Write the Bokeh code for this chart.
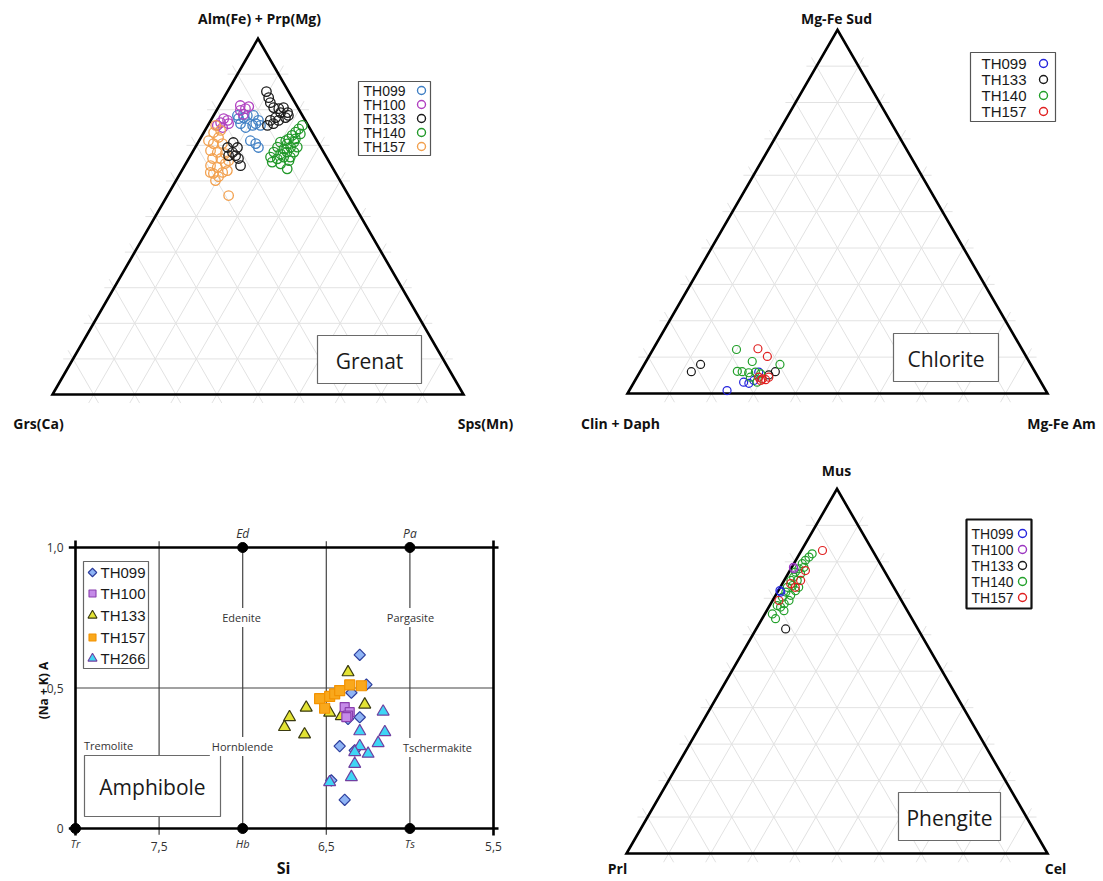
import math
from bokeh.plotting import figure
from bokeh.layouts import gridplot
from bokeh.models import Range1d, Label
from bokeh.embed import file_html
from bokeh.resources import INLINE
from bokeh.core.properties import value

# ---------------- DATA ----------------
# Grenat: top apex = Alm(Fe)+Prp(Mg) %, right apex = Sps(Mn) %, Grs(Ca) = remainder
grt_names = ["TH099", "TH100", "TH133", "TH140", "TH157"]
grt_th099_top = [77.5, 77.8, 78.4, 78.4, 77.0, 76.1, 75.0, 75.6, 76.1, 75.6, 71.3, 70.5, 69.4, 78.4]
grt_th099_sps = [6.5, 7.6, 8.2, 9.7, 11.6, 7.7, 9.5, 10.9, 11.4, 12.8, 12.5, 14.2, 15.4, 5.8]
grt_th100_top = [81.2, 80.3, 80.9, 79.8, 78.7, 77.5, 76.4, 77.0, 75.6, 75.0, 76.1]
grt_th100_sps = [5.1, 6.8, 7.3, 5.8, 7.1, 2.9, 2.7, 4.1, 2.3, 3.9, 4.8]
grt_th133_top = [85.1, 83.4, 82.0, 80.6, 80.3, 80.6, 79.2, 78.4, 79.2, 77.8, 77.0, 76.1, 75.6, 77.0, 77.8,
                 70.8, 69.4, 68.0, 67.1, 66.3, 64.3, 69.4, 67.1]
grt_th133_sps = [9.5, 10.9, 12.0, 13.5, 14.9, 15.9, 17.6, 18.2, 15.9, 15.4, 14.5, 15.7, 14.5, 16.5, 17.8,
                 8.6, 10.3, 9.8, 11.0, 12.1, 13.6, 7.9, 9.3]
grt_th140_top = [75.6, 74.6, 73.7, 72.8, 71.8, 71.3, 70.9, 70.4, 70.9, 69.5, 69.0, 69.5, 69.5, 68.1,
                 67.6, 68.1, 68.1, 66.7, 66.2, 66.7, 66.7, 65.3, 64.8, 65.7, 63.4, 71.8, 73.2]
grt_th140_sps = [23.0, 22.6, 22.3, 21.9, 21.6, 21.1, 20.0, 21.9, 23.3, 20.0, 21.8, 23.2, 24.8, 19.8,
                 21.7, 23.0, 24.7, 19.7, 21.6, 22.9, 24.5, 20.8, 23.1, 24.7, 25.4, 23.2, 23.7]
grt_th157_top = [73.6, 72.2, 70.5, 70.5, 68.5, 68.0, 67.7, 66.3, 66.3, 65.7, 64.3, 63.8, 64.9, 62.1,
                 62.4, 60.1, 62.9, 55.9, 71.3, 75.6, 74.2, 62.4, 61.2]
grt_th157_sps = [2.4, 4.3, 3.9, 6.1, 4.2, 6.1, 8.2, 5.8, 7.8, 10.0, 6.3, 8.2, 9.6, 8.1,
                 10.2, 9.6, 11.1, 14.9, 2.3, 1.9, 3.8, 7.2, 9.8]
grt_colors = ["#3f7fc4", "#b040c0", "#1a1a1a", "#22992a", "#f2a04e"]

# Chlorite: top apex = Mg-Fe Sud %, right apex = Mg-Fe Am %, Clin + Daph = remainder
chl_names = ["TH099", "TH133", "TH140", "TH157"]
chl_th099_top = [0.8, 3.1, 2.8, 3.6, 5.9]
chl_th099_am = [23.3, 26.1, 27.5, 28.3, 28.3]
chl_th133_top = [6.0, 8.0, 6.0, 5.1]
chl_th133_am = [12.2, 13.4, 32.2, 31.1]
chl_th140_top = [12.1, 8.8, 8.0, 6.1, 6.0, 5.7, 5.9, 5.4, 3.1, 4.5]
chl_th140_am = [19.9, 25.3, 32.3, 23.1, 24.3, 26.0, 27.5, 29.0, 29.3, 27.0]
chl_th157_top = [12.3, 10.2, 4.5, 4.0, 3.8, 4.5, 3.6]
chl_th157_am = [24.9, 28.2, 29.0, 30.1, 31.0, 31.4, 29.9]
chl_colors = ["#2424dd", "#1a1a1a", "#22a02a", "#e02020"]

# Phengite: top apex = Mus %, right apex = Cel %, Prl = remainder
phg_names = ["TH099", "TH100", "TH133", "TH140", "TH157"]
phg_th099_top = [72.1, 71.7]
phg_th099_cel = [0.4, 0.8]
phg_th100_top = [78.5, 78.1]
phg_th100_cel = [0.4, 0.7]
phg_th133_top = [61.6]
phg_th133_cel = [7.0]
phg_th140_top = [82.2, 81.3, 80.4, 79.5, 78.5, 78.1, 77.2, 76.7, 75.8, 74.9, 74.9, 73.5, 73.0,
                 73.0, 72.1, 71.7, 70.8, 70.3, 69.4, 68.5, 68.0, 66.6, 65.7, 64.4, 67.6]
phg_th140_cel = [3.0, 2.7, 2.3, 2.0, 2.9, 1.9, 1.5, 3.0, 1.8, 1.6, 3.1, 2.7, 1.7,
                 4.4, 4.1, 2.0, 3.6, 1.9, 3.9, 3.2, 1.8, 4.1, 1.8, 3.2, 2.8]
phg_th157_top = [83.1, 77.6, 74.0, 69.4, 73.0, 74.9]
phg_th157_cel = [5.0, 3.7, 2.0, 1.5, 3.6, 3.9]
phg_colors = ["#2424dd", "#9a35c0", "#1a1a1a", "#22a02a", "#e02020"]

# Amphibole: Si (apfu) vs (Na + K) A
amp_names = ["TH099", "TH100", "TH133", "TH157", "TH266"]
amp_th099_si = [6.30, 6.26, 6.35, 6.30, 6.37, 6.42, 6.33, 6.47, 6.39]
amp_th099_a = [0.618, 0.512, 0.483, 0.396, 0.390, 0.293, 0.278, 0.171, 0.102]
amp_th100_si = [6.39, 6.36, 6.37, 6.38]
amp_th100_a = [0.432, 0.414, 0.402, 0.396]
amp_th133_si = [6.37, 6.27, 6.62, 6.72, 6.75, 6.63, 6.48, 6.41]
amp_th133_a = [0.556, 0.441, 0.430, 0.396, 0.361, 0.335, 0.412, 0.400]
amp_th157_si = [6.54, 6.51, 6.48, 6.45, 6.42, 6.36, 6.29]
amp_th157_a = [0.462, 0.428, 0.470, 0.479, 0.491, 0.511, 0.508]
amp_th266_si = [6.16, 6.30, 6.15, 6.19, 6.30, 6.33, 6.25, 6.33, 6.35, 6.48]
amp_th266_a = [0.416, 0.346, 0.343, 0.304, 0.293, 0.272, 0.266, 0.230, 0.183, 0.165]
amp_fill = ["#8fb4f5", "#c58ae8", "#e3e334", "#f9a81c", "#3fd6f5"]
amp_line = ["#2c3d9c", "#8a3fae", "#3a3a10", "#f39200", "#7040a0"]
amp_x_ticks = [7.5, 6.5, 5.5]
amp_x_tick_labels = ["7,5", "6,5", "5,5"]
amp_y_ticks = [1.0, 0.5, 0.0]
amp_y_tick_labels = ["1,0", "0,5", "0"]

# ---------------- HELPERS ----------------
S3 = math.sqrt(3) / 2
TFONT = value("Open Sans")
LFONT = value("Liberation Sans")


def base_fig(w, h, xr, yr):
    p = figure(width=w, height=h, x_range=Range1d(*xr), y_range=Range1d(*yr),
               output_backend="svg", toolbar_location=None,
               x_axis_type=None, y_axis_type=None, min_border=0)
    p.outline_line_color = None
    p.background_fill_color = "white"
    p.border_fill_color = "white"
    return p


def ternary_fig(box, origin, L):
    bx0, by0, bx1, by1 = box
    ox, oy = origin
    p = base_fig(bx1 - bx0, by1 - by0, ((bx0 - ox) / L, (bx1 - ox) / L), ((oy - by1) / L, (oy - by0) / L))

    def conv(sx, sy):
        return (sx - ox) / L, (oy - sy) / L
    return p, conv


def ternary_xy(top, right):
    xs = [r / 100 + t / 200 for t, r in zip(top, right)]
    ys = [t / 100 * S3 for t in top]
    return xs, ys


def draw_ternary_frame(p, ext=0.024):
    xs, ys = [], []
    for k in range(1, 10):
        f = k / 10
        segs = [((f / 2, f * S3), (1 - f / 2, f * S3)),
                ((f, 0), (f + (1 - f) / 2, (1 - f) * S3)),
                ((1 - f, 0), ((1 - f) / 2, (1 - f) * S3))]
        for (x0, y0), (x1, y1) in segs:
            d = math.hypot(x1 - x0, y1 - y0)
            ux, uy = (x1 - x0) / d, (y1 - y0) / d
            xs.append([x0 - ux * ext, x1 + ux * ext])
            ys.append([y0 - uy * ext, y1 + uy * ext])
    p.multi_line(xs, ys, line_color="#e2e2e2", line_width=1)
    p.patch([0, 1, 0.5], [0, 0, S3], fill_color=None, line_color="black",
            line_width=2.6, line_join="miter")


def txt(p, conv, sx, sy, s, size, style="normal", align="center", color="#111", font=TFONT, angle=0.0):
    x, y = conv(sx, sy)
    p.text([x], [y], text=[s], text_font=font, text_font_size=f"{size}px", text_font_style=style,
           text_align=align, text_baseline="middle", text_color=color, angle=angle)


def boxed(p, conv, x0, y0, x1, y1, line_color="#666", lw=1.0):
    a = conv(x0, y0)
    b = conv(x1, y1)
    p.quad(left=min(a[0], b[0]), right=max(a[0], b[0]), bottom=min(a[1], b[1]), top=max(a[1], b[1]),
           fill_color="white", line_color=line_color, line_width=lw)


def name_box(p, conv, box, label):
    x0, y0, x1, y1 = box
    boxed(p, conv, x0, y0, x1, y1, line_color="#6a6a6a", lw=1.2)
    txt(p, conv, (x0 + x1) / 2, (y0 + y1) / 2 + 1, label, 21, color="#1a1a1a")


def ternary_legend(p, conv, box, names, colors, tx, mx, rows, fsize, msize, lw_box, box_col):
    boxed(p, conv, *box, line_color=box_col, lw=lw_box)
    for n, c, ry in zip(names, colors, rows):
        txt(p, conv, tx, ry, n, fsize, align="left", font=LFONT, color="#1a1a1a")
        x, y = conv(mx, ry)
        p.scatter([x], [y], marker="circle", size=msize, fill_color=None, line_color=c, line_width=1.4)


def ternary_points(p, tops, rights, colors, size, lw):
    for t, r, c in zip(tops, rights, colors):
        x, y = ternary_xy(t, r)
        p.scatter(x, y, marker="circle", size=size, fill_color=None, line_color=c, line_width=lw)


# ---------------- GRENAT ----------------
p1, c1 = ternary_fig((0, 0, 551, 440), (52, 394), 411)
draw_ternary_frame(p1)
ternary_points(p1,
               [grt_th099_top, grt_th100_top, grt_th157_top, grt_th133_top, grt_th140_top],
               [grt_th099_sps, grt_th100_sps, grt_th157_sps, grt_th133_sps, grt_th140_sps],
               [grt_colors[0], grt_colors[1], grt_colors[4], grt_colors[2], grt_colors[3]], 9.5, 1.3)
ternary_legend(p1, c1, (358, 81, 430, 155), grt_names, grt_colors, 363, 421,
               [90, 104, 118, 132, 146], 14, 8, 1.2, "#555")
name_box(p1, c1, (317, 335, 421, 383), "Grenat")
txt(p1, c1, 259, 18, "Alm(Fe) + Prp(Mg)", 14, style="bold")
txt(p1, c1, 38, 423, "Grs(Ca)", 14, style="bold")
txt(p1, c1, 485, 423, "Sps(Mn)", 14, style="bold")

# ---------------- CHLORITE ----------------
p2, c2 = ternary_fig((551, 0, 1101, 440), (627, 393), 420)
draw_ternary_frame(p2)
ternary_points(p2,
               [chl_th099_top, chl_th133_top, chl_th140_top, chl_th157_top],
               [chl_th099_am, chl_th133_am, chl_th140_am, chl_th157_am],
               chl_colors, 8, 1.2)
ternary_legend(p2, c2, (970, 52, 1055, 121), chl_names, chl_colors, 981, 1043,
               [63, 79, 95, 111], 15, 8, 1.2, "#555")
name_box(p2, c2, (893, 333, 998, 381), "Chlorite")
txt(p2, c2, 836, 18, "Mg-Fe Sud", 14, style="bold")
txt(p2, c2, 620, 423, "Clin + Daph", 14, style="bold")
txt(p2, c2, 1061, 423, "Mg-Fe Am", 14, style="bold")

# ---------------- PHENGITE ----------------
p4, c4 = ternary_fig((551, 440, 1101, 879), (626, 853), 421)
draw_ternary_frame(p4)
ternary_points(p4,
               [phg_th140_top, phg_th157_top, phg_th099_top, phg_th100_top, phg_th133_top],
               [phg_th140_cel, phg_th157_cel, phg_th099_cel, phg_th100_cel, phg_th133_cel],
               [phg_colors[3], phg_colors[4], phg_colors[0], phg_colors[1], phg_colors[2]], 8, 1.2)
ternary_legend(p4, c4, (966, 519, 1031, 608), phg_names, phg_colors, 971, 1022,
               [533, 549, 565, 581, 597], 14, 8, 2.2, "#111")
name_box(p4, c4, (898, 792, 1000, 840), "Phengite")
txt(p4, c4, 836, 470, "Mus", 14, style="bold")
txt(p4, c4, 617, 868, "Prl", 14, style="bold")
txt(p4, c4, 1055, 868, "Cel", 14, style="bold")

# ---------------- AMPHIBOLE ----------------
def c3(sx, sy):
    return 8.0 - (sx - 75) / 167.2, (828 - sy) / 281.0


bx0, by0, bx1, by1 = 0, 440, 551, 879
p3 = base_fig(bx1 - bx0, by1 - by0, (c3(bx0, 0)[0], c3(bx1, 0)[0]), (c3(0, by1)[1], c3(0, by0)[1]))

# inner thin lines
p3.segment(x0=[7.5, 6.5], y0=[-0.022, -0.022], x1=[7.5, 6.5], y1=[1.022, 1.022], line_color="#444", line_width=1.2)
p3.segment(x0=[7.0, 6.0], y0=[0, 0], x1=[7.0, 6.0], y1=[1, 1], line_color="#444", line_width=1.2)
p3.segment(x0=[8.0], y0=[0.5], x1=[5.5], y1=[0.5], line_color="#444", line_width=1.2)
# thick frame
p3.segment(x0=[8.04, 8.04], y0=[0, 1], x1=[5.47, 5.47], y1=[0, 1], line_color="black", line_width=2.6)
p3.segment(x0=[8.0, 5.5], y0=[-0.025, -0.025], x1=[8.0, 5.5], y1=[1.025, 1.025], line_color="black", line_width=2.6)
# end-member dots
p3.scatter([7.0, 6.0, 8.0, 7.0, 6.0], [1, 1, 0, 0, 0], size=10, color="black")

# field names (those crossing a boundary line get a white background)
for sx, sy, s in [(241, 617, "Edenite"), (410, 617, "Pargasite"),
                  (242, 746, "Hornblende"), (437, 747, "Tschermakite")]:
    x, y = c3(sx, sy)
    p3.add_layout(Label(x=x, y=y, text=s, text_font="Open Sans", text_font_size="11px",
                        text_color="#333", text_align="center", text_baseline="middle",
                        background_fill_color="white", padding=2))
txt(p3, c3, 108, 745, "Tremolite", 11, color="#333")

# data points
p3.scatter(amp_th099_si, amp_th099_a, marker="square", angle=math.pi / 4, size=8,
           fill_color=amp_fill[0], line_color=amp_line[0], line_width=1.2)
p3.scatter(amp_th266_si, amp_th266_a, marker="triangle", size=12,
           fill_color=amp_fill[4], line_color=amp_line[4], line_width=1.2)
p3.scatter(amp_th133_si, amp_th133_a, marker="triangle", size=12,
           fill_color=amp_fill[2], line_color=amp_line[2], line_width=1.2)
p3.scatter(amp_th100_si, amp_th100_a, marker="square", size=9,
           fill_color=amp_fill[1], line_color=amp_line[1], line_width=1.2)
p3.scatter(amp_th157_si, amp_th157_a, marker="square", size=10,
           fill_color=amp_fill[3], line_color=amp_line[3], line_width=1.2)

# legend
boxed(p3, c3, 83, 561, 148, 668, line_color="#666", lw=1.2)
amp_markers = [("square", math.pi / 4, 6), ("square", 0, 7), ("triangle", 0, 9), ("square", 0, 7), ("triangle", 0, 9)]
for i, (n, ry) in enumerate(zip(amp_names, [572, 593, 615, 637, 658])):
    mk, ang, sz = amp_markers[i]
    x, y = c3(92, ry)
    p3.scatter([x], [y], marker=mk, angle=ang, size=sz, fill_color=amp_fill[i],
               line_color=amp_line[i], line_width=1.1)
    txt(p3, c3, 100, ry, n, 15, align="left", font=LFONT, color="#1a1a1a")

name_box(p3, c3, (84, 755, 220, 816), "Amphibole")

# tick labels
lab_y = c3(0, 846)[1]
for v, s in zip(amp_x_ticks, amp_x_tick_labels):
    p3.text([v], [lab_y], text=[s], text_font=TFONT, text_font_size="12px", text_align="center",
            text_baseline="middle", text_color="#333")
for v, s in zip([8.0, 7.0, 6.0], ["Tr", "Hb", "Ts"]):
    p3.text([v], [c3(0, 843)[1]], text=[s], text_font=TFONT, text_font_size="11px", text_font_style="italic",
            text_align="center", text_baseline="middle", text_color="#333")
for v, s in zip([7.0, 6.0], ["Ed", "Pa"]):
    p3.text([v], [c3(0, 533)[1]], text=[s], text_font=TFONT, text_font_size="12px", text_font_style="italic",
            text_align="center", text_baseline="middle", text_color="#333")
for v, s in zip(amp_y_ticks, amp_y_tick_labels):
    p3.text([c3(63, 0)[0]], [v], text=[s], text_font=TFONT, text_font_size="12px", text_align="right",
            text_baseline="middle", text_color="#333")
txt(p3, c3, 283, 867, "Si", 16, style="bold")
txt(p3, c3, 43, 690, "(Na + K) A", 12, style="bold", angle=math.pi / 2)

grid = gridplot([[p1, p2], [p3, p4]], toolbar_location=None)
open("out.html", "w").write(file_html(grid, INLINE))
